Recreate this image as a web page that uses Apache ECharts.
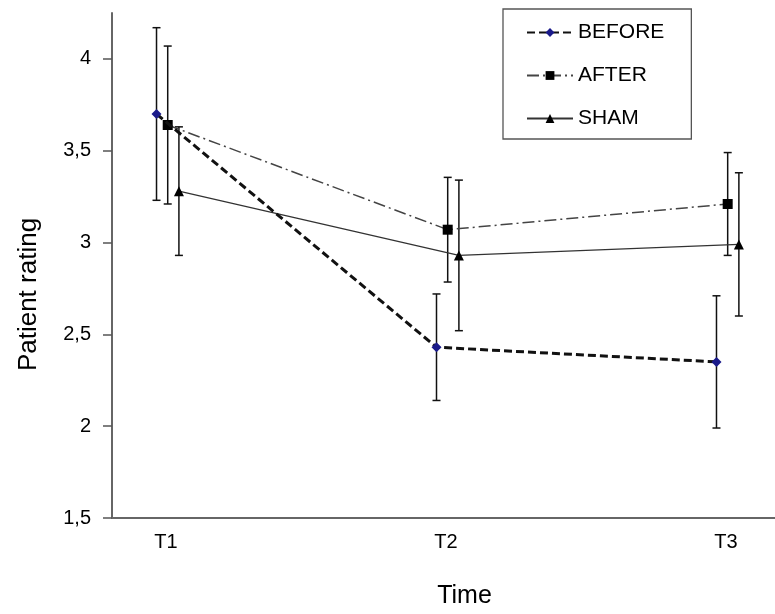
<!DOCTYPE html>
<html>
<head>
<meta charset="utf-8">
<script src="https://cdn.jsdelivr.net/npm/echarts@6/dist/echarts.min.js"></script>
<style>
html,body{margin:0;padding:0;background:#fff;}
#chart{width:775px;height:614px;}
</style>
</head>
<body>
<div id="chart"></div>
<script>
// ---- data ----
var timeLabels = ['T1', 'T2', 'T3'];
var timePos = [1, 2, 3];
var beforeMean = [3.70, 2.43, 2.35];
var beforeErr  = [0.47, 0.29, 0.36];
var afterMean  = [3.64, 3.07, 3.21];
var afterErr   = [0.43, 0.285, 0.28];
var shamMean   = [3.28, 2.93, 2.99];
var shamErr    = [0.35, 0.41, 0.39];
var yTicks = [1.5, 2, 2.5, 3, 3.5, 4];

// horizontal dodge of each series (axis units), a style setting
var dodge = { BEFORE: -0.034, AFTER: 0.006, SHAM: 0.046 };

function pts(mean, off) {
  return mean.map(function (v, i) { return [timePos[i] + off, v]; });
}
function errPts(mean, err, off) {
  return mean.map(function (v, i) { return [timePos[i] + off, v - err[i], v + err[i]]; });
}
function errRender(params, api) {
  var x = api.value(0);
  var lo = api.coord([x, api.value(1)]);
  var hi = api.coord([x, api.value(2)]);
  var cap = 4;
  var st = { stroke: '#111', lineWidth: 1.5 };
  return {
    type: 'group',
    children: [
      { type: 'line', shape: { x1: lo[0], y1: lo[1], x2: hi[0], y2: hi[1] }, style: st },
      { type: 'line', shape: { x1: lo[0] - cap, y1: lo[1], x2: lo[0] + cap, y2: lo[1] }, style: st },
      { type: 'line', shape: { x1: hi[0] - cap, y1: hi[1], x2: hi[0] + cap, y2: hi[1] }, style: st }
    ]
  };
}

var chart = echarts.init(document.getElementById('chart'), null, { renderer: 'canvas' });
var font = 'Liberation Sans, Arial, sans-serif';

chart.setOption({
  animation: false,
  backgroundColor: '#fff',
  grid: { left: 112, right: 0, top: 13, bottom: 95 },
  legend: {
    orient: 'vertical',
    left: 503, top: 9,
    padding: [13, 27, 10, 23],
    itemGap: 22,
    itemWidth: 46, itemHeight: 11,
    borderColor: '#555', borderWidth: 1.3,
    textStyle: { fontFamily: font, fontSize: 21, color: '#000' },
    data: ['BEFORE', 'AFTER', 'SHAM']
  },
  xAxis: {
    type: 'value',
    min: 0.807, max: 3.175,
    name: 'Time',
    nameLocation: 'middle',
    nameGap: 66,
    nameTextStyle: { fontFamily: font, fontSize: 25, color: '#000', padding: [0, 0, 0, 42] },
    axisLine: { show: true, lineStyle: { color: '#666', width: 2 } },
    axisTick: { show: false },
    splitLine: { show: false },
    axisLabel: {
      customValues: timePos,
      margin: 14,
      fontFamily: font, fontSize: 20, color: '#000',
      formatter: function (v) { return timeLabels[Math.round(v) - 1]; }
    }
  },
  yAxis: {
    type: 'value',
    min: 1.5, max: 4.25,
    name: 'Patient rating',
    nameLocation: 'middle',
    nameGap: 70,
    nameTextStyle: { fontFamily: font, fontSize: 26, color: '#000', padding: [0, 58, 0, 0] },
    axisLine: { show: true, lineStyle: { color: '#666', width: 2 } },
    axisTick: { show: true, customValues: yTicks, length: 9, lineStyle: { color: '#555', width: 1.5 } },
    splitLine: { show: false },
    axisLabel: {
      customValues: yTicks,
      margin: 21,
      fontFamily: font, fontSize: 20, color: '#000',
      formatter: function (v) { return String(v).replace('.', ','); }
    }
  },
  series: [
    { name: 'errBefore', type: 'custom', renderItem: errRender, data: errPts(beforeMean, beforeErr, dodge.BEFORE), z: 1, silent: true },
    { name: 'errAfter', type: 'custom', renderItem: errRender, data: errPts(afterMean, afterErr, dodge.AFTER), z: 1, silent: true },
    { name: 'errSham', type: 'custom', renderItem: errRender, data: errPts(shamMean, shamErr, dodge.SHAM), z: 1, silent: true },
    {
      name: 'SHAM', type: 'line', z: 3,
      data: pts(shamMean, dodge.SHAM),
      symbol: 'triangle', symbolSize: 10,
      itemStyle: { color: '#000' },
      lineStyle: { color: '#333', width: 1.3, type: 'solid' }
    },
    {
      name: 'AFTER', type: 'line', z: 3,
      data: pts(afterMean, dodge.AFTER),
      symbol: 'rect', symbolSize: 10,
      itemStyle: { color: '#000' },
      lineStyle: { color: '#444', width: 1.5, type: [12, 4, 2, 4] }
    },
    {
      name: 'BEFORE', type: 'line', z: 4,
      data: pts(beforeMean, dodge.BEFORE),
      symbol: 'diamond', symbolSize: 10,
      itemStyle: { color: '#1a1a8a' },
      lineStyle: { color: '#111', width: 3, type: [8, 4] }
    }
  ]
});
</script>
</body>
</html>
